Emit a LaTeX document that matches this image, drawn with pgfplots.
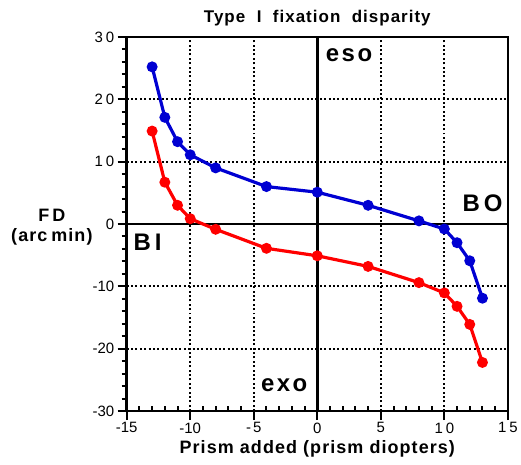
\documentclass[border=0pt]{standalone}
\usepackage{fontspec}
\setmainfont{Liberation Sans}
\newfontfamily\widefont[LetterSpace=6]{Liberation Sans}
\usepackage{pgfplots}
\pgfplotsset{compat=1.18}

\definecolor{fdblue}{RGB}{0,0,210}
\definecolor{fdred}{RGB}{255,0,0}

\newcommand{\bigtxt}[1]{\bfseries\fontsize{24bp}{26bp}\selectfont #1}

\begin{document}
\begin{tikzpicture}
\begin{axis}[
  scale only axis, width=382bp, height=375bp,
  xmin=-15, xmax=15, ymin=-30, ymax=30,
  xtick={-15,-10,...,15}, ytick={-30,-20,...,30},
  xticklabels={-15,-10,-\kern2bp 5,0,5,1\kern3bp 0,1\kern3bp 5},
  yticklabels={-30,-20,-10,0,1\kern3bp 0,2\kern3bp 0,3\kern3bp 0},
  minor x tick num=4, minor y tick num=4,
  tick align=outside,
  major tick length=9bp, minor tick length=5bp,
  every tick/.style={black, line width=2bp},
  minor x tick style={yshift=5bp},
  xtick pos=bottom, ytick pos=left,
  axis line style={line width=2.6bp},
  tick label style={font=\fontsize{15bp}{17bp}\selectfont},
  xticklabel style={yshift=1bp},
  grid=major,
  major grid style={black, line width=2bp, dash pattern=on 2bp off 2.4bp},
  clip=false,
]
\draw[line width=2.6bp] (axis cs:0,-30) -- (axis cs:0,30);
\draw[line width=2.6bp] (axis cs:-15,0) -- (axis cs:15,0);

\addplot[fdblue, line width=3.2bp, mark=*, mark size=3.8bp] coordinates {
  (-13,25.2) (-12,17.1) (-11,13.2) (-10,11.1) (-8,9.0) (-4,6.0) (0,5.1)
  (4,3.0) (8,0.5) (10,-0.8) (11,-3.0) (12,-5.9) (13,-11.9)
};
\addplot[fdred, line width=3.2bp, mark=*, mark size=3.8bp] coordinates {
  (-13,14.9) (-12,6.7) (-11,3.0) (-10,0.85) (-8,-0.85) (-4,-3.9) (0,-5.1)
  (4,-6.8) (8,-9.4) (10,-11.05) (11,-13.2) (12,-16.1) (13,-22.2)
};

\node at (axis cs:2.5,27.0) {\bigtxt{e\kern2.5bp s\kern2.5bp o}};
\node at (axis cs:-2.6,-25.8) {\bigtxt{e\kern2.5bp x\kern2.5bp o}};
\node at (axis cs:13.0,3.3) {\bigtxt{B\kern4bp O}};
\node at (axis cs:-13.35,-3.0) {\bigtxt{B\kern4bp I}};

\node[font=\widefont\bfseries\fontsize{17bp}{19bp}\selectfont] at (rel axis cs:0.5,1) [yshift=19bp] {Type\ \ I\ \ fixation\ \ disparity};
\node[font=\widefont\bfseries\fontsize{18bp}{20bp}\selectfont] at (rel axis cs:0.5,0) [yshift=-38bp] {Prism added (prism diopters)};
\node[font=\widefont\bfseries\fontsize{18bp}{20bp}\selectfont, align=center] at (rel axis cs:0,0.5) [xshift=-75bp, yshift=-3bp] {F\kern3bp D\\(arc\kern4bp min)};
\end{axis}
\path (-127bp,-54bp) rectangle (394bp,412bp);
\end{tikzpicture}
\end{document}
